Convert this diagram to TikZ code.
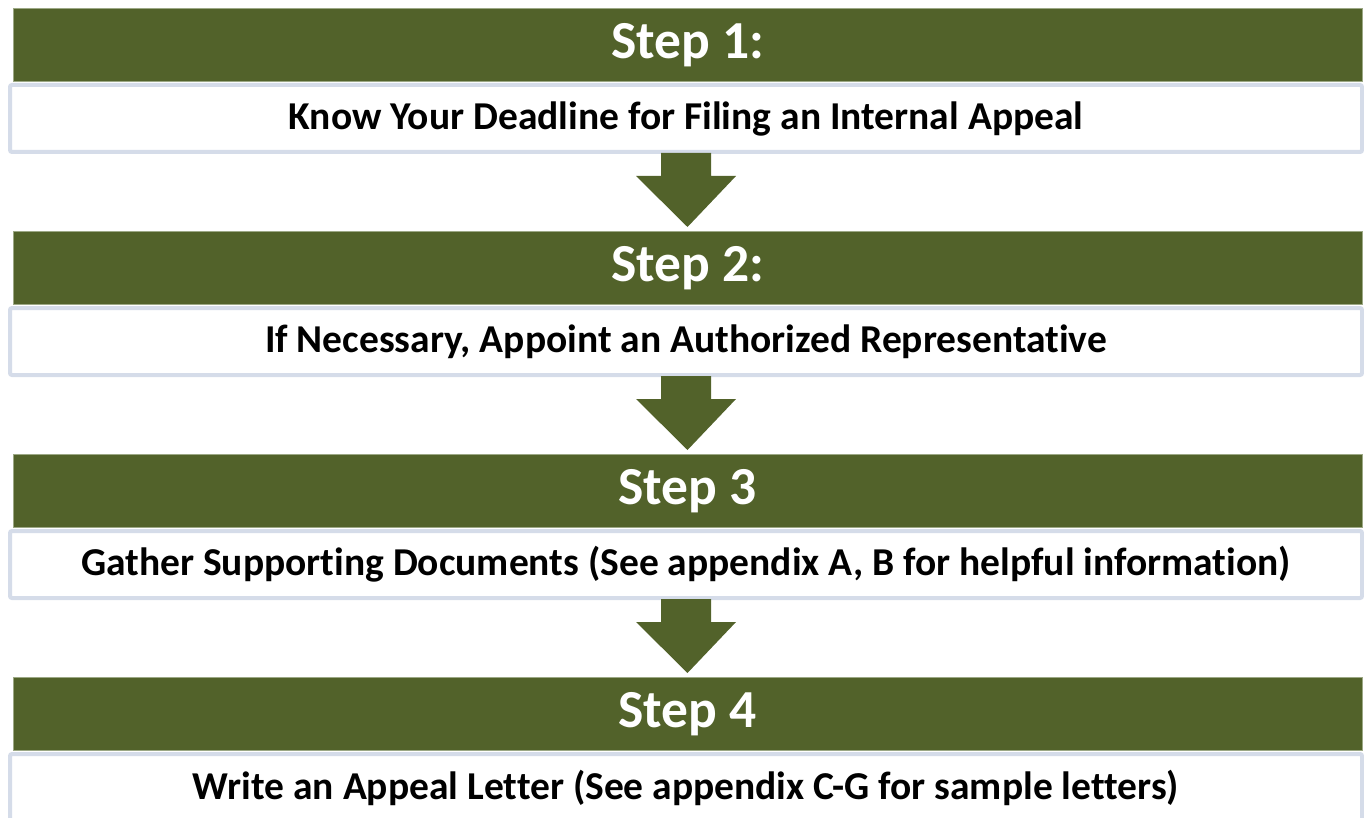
\documentclass[tikz,border=0pt]{standalone}
\usepackage{fontspec}
\setmainfont[Ligatures=NoCommon]{Carlito}
\usepackage{xcolor}
\usetikzlibrary{calc}
\definecolor{stepgreen}{HTML}{52622A}
\definecolor{stepedge}{HTML}{9CA885}
\definecolor{boxedge}{HTML}{D5DCE9}
\tikzset{
  head/.style={
    fill=stepgreen,
    draw=stepedge,
    line width=1pt,
    minimum width=1349pt,
    minimum height=73pt,
    inner sep=0pt,
    text=white,
    font=\fontsize{53.5}{60}\selectfont\bfseries},
  body/.style={
    fill=white,
    draw=boxedge,
    line width=4pt,
    rounded corners=2pt,
    minimum width=1352pt,
    minimum height=67pt,
    inner sep=0pt,
    font=\fontsize{39.5}{46}\selectfont\bfseries},
  downarrow/.style={
    fill=stepgreen}
  }

\begin{document}
\begin{tikzpicture}[x=1pt,y=-1pt]
      \useasboundingbox (0,0) rectangle (1364,818);
      \node[head] (h1) at (687.5,45) {Step 1:};
      \node[body] (b1) at (686,118.5) {Know Your Deadline for Filing an Internal Appeal};
      \node[head] (h2) at (687.5,268) {Step 2:};
      \node[body] (b2) at (686,341.5) {If Necessary, Appoint an Authorized Representative};
      \node[head] (h3) at (687.5,491) {Step 3};
      \node[body] (b3) at (686,564.5) {Gather Supporting Documents (See appendix A, B for helpful information)};
      \node[head] (h4) at (687.5,714) {Step 4};
      \node[body] (b4) at (686,787.5) {Write an Appeal Letter (See appendix C-G for sample letters)};
      % block arrows between the steps
      \foreach \a/\b in {b1/h2,b2/h3,b3/h4}{
        \fill[downarrow]
          ($(\a.south)+(-25,-1)$) -- ($(\a.south)+(25,-1)$)
          -- ($(\a.south)+(25,22)$) -- ($(\a.south)+(50,22)$)
          -- ($(\b.north)+(0,-4)$)
          -- ($(\a.south)+(-50,22)$) -- ($(\a.south)+(-25,22)$) -- cycle;
      }
    \end{tikzpicture}
\end{document}
